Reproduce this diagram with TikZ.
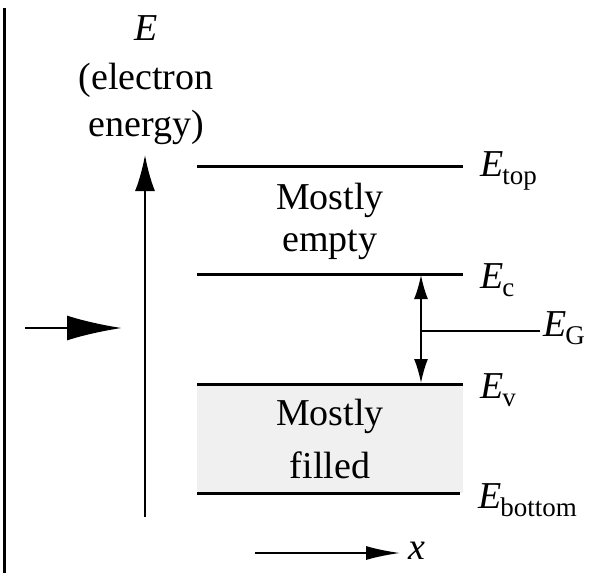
\documentclass[tikz,border=0pt]{standalone}
\usepackage{fontspec}
\setmainfont{Liberation Serif}
\usetikzlibrary{arrows.meta}
\newcommand{\Esub}[1]{\textit{E}\kern-1pt\raisebox{-8pt}{\fontsize{27}{27}\selectfont #1}}
\begin{document}
\begin{tikzpicture}[x=1pt,y=-1pt,
  lvl/.style={line width=3pt},
  txt/.style={font=\fontsize{38}{40}\selectfont, inner sep=0pt},
  lab/.style={font=\fontsize{38}{40}\selectfont, inner sep=0pt, anchor=west},
  thin/.style={line width=1.6pt}]
\useasboundingbox (0,0) rectangle (605,573);
% left frame line
\draw[line width=3pt] (4,8) -- (4,573);
% band fill
\fill[black!6] (197,384) rectangle (463,493);
% levels
\coordinate (t1) at (197,166); \coordinate (t2) at (463,166);
\coordinate (c1) at (197,274); \coordinate (c2) at (463,274);
\coordinate (v1) at (197,384); \coordinate (v2) at (463,384);
\coordinate (b1) at (197,493); \coordinate (b2) at (460,493);
\draw[lvl] (t1) -- (t2);
\draw[lvl] (c1) -- (c2);
\draw[lvl] (v1) -- (v2);
\draw[lvl] (b1) -- (b2);
% labels
\node[lab] (Etop) at (480,171) {\Esub{top}};
\node[lab] (Ec) at (480,280) {\Esub{c}};
\node[lab] (Ev) at (480,390) {\Esub{v}};
\node[lab] (Eb) at (478,500) {\Esub{bottom}};
\node[lab] (EG) at (543,328) {\Esub{G}};
% texts
\node[txt] (m1) at (330,200) {Mostly};
\node[txt] (e1) at (330,245) {empty};
\node[txt] (m2) at (330,416) {Mostly};
\node[txt] (f2) at (330,465) {filled};
\node[txt] (Elab) at (146,28) {\textit{E}};
\node[txt] (el) at (146,80) {(electron};
\node[txt] (en) at (146,127) {energy)};
% energy axis
\coordinate (ax0) at (145,517);
\coordinate (ax1) at (145,155);
\draw[line width=2.2pt,-{Latex[length=36pt,width=20pt]}] (ax0) -- (ax1);
% gap arrow
\coordinate (g1) at (421,275);
\coordinate (g2) at (421,383);
\draw[thin,{Latex[length=24pt,width=14pt]}-{Latex[length=24pt,width=14pt]}] (g1) -- (g2);
\coordinate (gm) at (421,331);
\coordinate (ge) at (540,331);
\draw[thin] (gm) -- (ge);
% left arrow
\coordinate (la0) at (25,328);
\coordinate (la1) at (122,328);
\draw[line width=2.6pt,-{Latex[length=55pt,width=25pt]}] (la0) -- (la1);
% x arrow
\coordinate (xa0) at (255,553);
\coordinate (xa1) at (400,553);
\draw[line width=1.8pt,-{Latex[length=34pt,width=14pt]}] (xa0) -- (xa1);
\node[lab] (xl) at (408,551) {\textit{x}};
\end{tikzpicture}
\end{document}
